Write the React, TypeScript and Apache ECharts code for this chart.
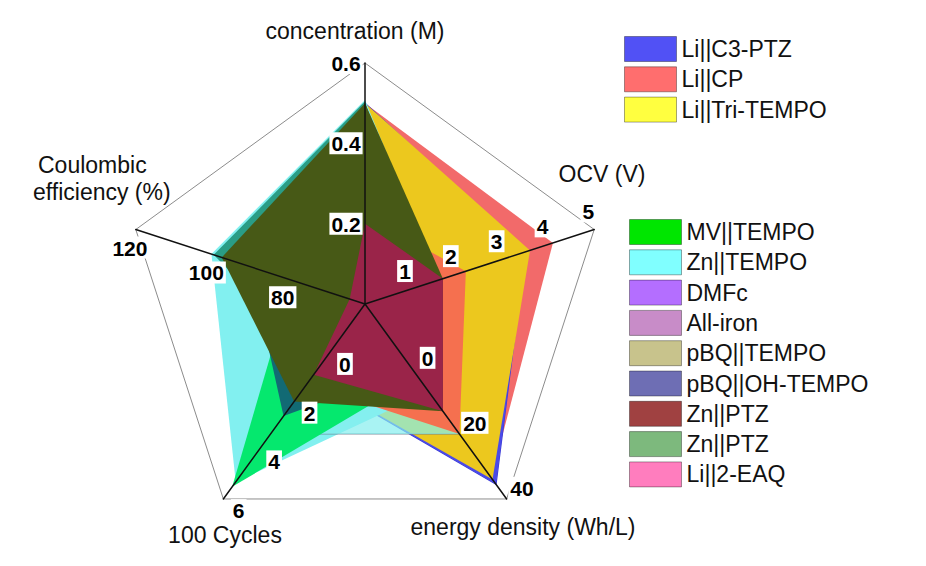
import React, { useEffect, useRef } from 'react';
import * as echarts from 'echarts';

// ---- axes (counter-clockwise from the top) ----
const indicatorNames = ['concentration (M)', 'Coulombic efficiency (%)', '100 Cycles', 'energy density (Wh/L)', 'OCV (V)'];
const axisMin = [0, 60, -2, -20, 0];
const axisMax = [0.6, 120, 6, 40, 5];
const concTicks = [0.2, 0.4, 0.6];
const ceTicks = [80, 100, 120];
const cycleTicks = [0, 2, 4, 6];
const energyTicks = [0, 20, 40];
const ocvTicks = [1, 2, 3, 4, 5];
const tickLists = [concTicks, ceTicks, cycleTicks, energyTicks, ocvTicks];

// ---- series values: [concentration, CE, 100 cycles, energy density, OCV] ----
const liC3PTZ = [0.5, 99, 1.0, 35.5, 3.5];
const liCP = [0.5, 99, 1.0, 33.5, 4.1];
const liTriTEMPO = [0.5, 99, 1.0, 34, 3.6];
const mvTEMPO = [0.3, 79, 5.5, 2.4, 1.2];
const znTEMPO = [0.508, 100.2, 5.3, 7, 1.6];
const dmfc = [0.505, 99.6, 0.5, 5, 1.2];
const allIron = [0.35, 90, 1.2, 8, 1.2];
const pbqTEMPO = [0.3, 75, 3.33, 20, 1.5];
const pbqOHTEMPO = [0.5, 90, 2.6, 0, 1.5];
const znPTZa = [0.2, 64, 0.9, 13, 1.7];
const znPTZb = [0.5, 97.5, 2.0, 13, 1.7];
const li2EAQ = [0.22, 70, 1.3, 20, 2.2];

const legendTop = ['Li||C3-PTZ', 'Li||CP', 'Li||Tri-TEMPO'];
const legendBottom = ['MV||TEMPO', 'Zn||TEMPO', 'DMFc', 'All-iron', 'pBQ||TEMPO', 'pBQ||OH-TEMPO', 'Zn||PTZ', 'Zn||PTZ ', 'Li||2-EAQ'];

const valuesByName: Record<string, number[]> = {
  'Li||C3-PTZ': liC3PTZ,
  'Li||CP': liCP,
  'Li||Tri-TEMPO': liTriTEMPO,
  'MV||TEMPO': mvTEMPO,
  'Zn||TEMPO': znTEMPO,
  'DMFc': dmfc,
  'All-iron': allIron,
  'pBQ||TEMPO': pbqTEMPO,
  'pBQ||OH-TEMPO': pbqOHTEMPO,
  'Zn||PTZ': znPTZa,
  'Zn||PTZ ': znPTZb,
  'Li||2-EAQ': li2EAQ,
};

// styles (legend colour, area colour, area opacity, line colour, line width)
const styles: Record<string, [string, string, number, string, number]> = {
  'Li||C3-PTZ': ['#5151f5', '#4a4ae8', 1, '#3b3bd6', 1.2],
  'Li||CP': ['#ff6e6e', '#f26a6a', 1, '#f26a6a', 0],
  'Li||Tri-TEMPO': ['#ffff40', '#ecc81e', 1, '#ecc81e', 0],
  'MV||TEMPO': ['#00e600', '#05e86e', 1, '#05e86e', 0],
  'Zn||TEMPO': ['#80ffff', '#82f0f0', 1, '#82f0f0', 0],
  'DMFc': ['#b46eff', '#2a9d86', 1, '#2a9d86', 0],
  'All-iron': ['#c88cc8', '#c88cc8', 0.6, '#c88cc8', 0],
  'pBQ||TEMPO': ['#c8c38c', '#84eeee', 0.7, '#6e7f90', 1],
  'pBQ||OH-TEMPO': ['#6e6eb4', '#126a74', 1, '#126a74', 0],
  'Zn||PTZ': ['#a04141', '#9a2449', 1, '#9a2449', 0],
  'Zn||PTZ ': ['#7db97d', '#475916', 1, '#475916', 0],
  'Li||2-EAQ': ['#ff7dbe', '#f5704f', 1, '#f5704f', 0],
};

const drawOrder = ['Li||CP', 'Li||C3-PTZ', 'Li||Tri-TEMPO', 'Zn||TEMPO', 'pBQ||TEMPO', 'MV||TEMPO', 'DMFc', 'All-iron', 'pBQ||OH-TEMPO', 'Li||2-EAQ', 'Zn||PTZ ', 'Zn||PTZ'];

const SPLITS = 60;
const FONT = '"Liberation Sans", Arial, Helvetica, sans-serif';

const tickRich = {
  b: {
    backgroundColor: '#fff',
    padding: [1, 2, 0, 2],
    fontSize: 21,
    fontWeight: 'bold',
    fontFamily: FONT,
    color: '#000',
  },
};

function makeFormatter(i: number) {
  const step = (axisMax[i] - axisMin[i]) / SPLITS;
  return (v: number, idx: number) => {
    if (idx > SPLITS) return '';
    const t = tickLists[i].find((t) => Math.abs(t - v) < step / 2);
    return t === undefined ? '' : `{b|${t}}`;
  };
}

export default function App() {
  const ref = useRef<HTMLDivElement>(null);
  useEffect(() => {
    if (!ref.current) return;
    const chart = echarts.init(ref.current, undefined, { renderer: 'svg' });
    const ringColors = Array.from({ length: SPLITS + 1 }, (_, k) => (k === SPLITS ? '#8c8c8c' : 'rgba(0,0,0,0)'));
    const legendCommon = {
      orient: 'vertical',
      itemWidth: 52,
      itemHeight: 25,
      itemGap: 4.3,
      icon: 'rect',
      padding: 0,
      selectedMode: false,
      formatter: (n: string) => n.trim(),
      itemStyle: { borderColor: 'rgba(0,0,0,0.35)', borderWidth: 1 },
      textStyle: { fontSize: 23, fontFamily: FONT, color: '#111' },
    };
    const nameText = (text: string, x: number, y: number, align = 'center') => ({
      type: 'text',
      x,
      y,
      style: { text, fontSize: 23, fontFamily: FONT, fill: '#111', align, verticalAlign: 'middle' },
    });
    chart.setOption({
      animation: false,
      backgroundColor: '#fff',
      radar: {
        center: [365, 304],
        radius: 241,
        startAngle: 90,
        shape: 'polygon',
        splitNumber: SPLITS,
        z: 5,
        axisName: { show: false },
        indicator: indicatorNames.map((n, i) => ({
          name: n,
          min: axisMin[i],
          max: axisMax[i],
          axisLabel: { formatter: makeFormatter(i), rich: tickRich },
        })),
        axisLine: { lineStyle: { color: '#111', width: 1.5 } },
        axisTick: { show: false },
        splitLine: { show: true, lineStyle: { color: ringColors, width: 1 } },
        splitArea: { show: false },
        axisLabel: {
          show: true,
          showMinLabel: true,
          showMaxLabel: true,
          margin: 19,
          align: 'center',
          verticalAlign: 'middle',
          fontSize: 21,
          fontWeight: 'bold',
          fontFamily: FONT,
          color: '#000',
          rich: tickRich,
        },
      },
      legend: [
        { ...legendCommon, data: legendTop, left: 624, top: 36 },
        { ...legendCommon, data: legendBottom, left: 629, top: 219 },
      ],
      graphic: [
        nameText('concentration (M)', 355, 31),
        nameText('OCV (V)', 602, 174),
        nameText('energy density (Wh/L)', 523, 527),
        nameText('100 Cycles', 225, 535),
        nameText('Coulombic', 38, 165, 'left'),
        nameText('efficiency (%)', 33, 192, 'left'),
      ],
      series: [
        {
          type: 'radar',
          symbol: 'none',
          z: 2,
          data: drawOrder.map((name) => {
            const [lc, ac, ao, lnc, lw] = styles[name];
            return {
              name,
              value: valuesByName[name],
              itemStyle: { color: lc },
              areaStyle: { color: ac, opacity: ao },
              lineStyle: { color: lnc, width: lw, opacity: lw > 0 ? 1 : 0 },
            };
          }),
        },
      ],
    });
    return () => chart.dispose();
  }, []);
  return <div ref={ref} style={{ position: 'fixed', left: 0, top: 0, width: 926, height: 566 }} />;
}
